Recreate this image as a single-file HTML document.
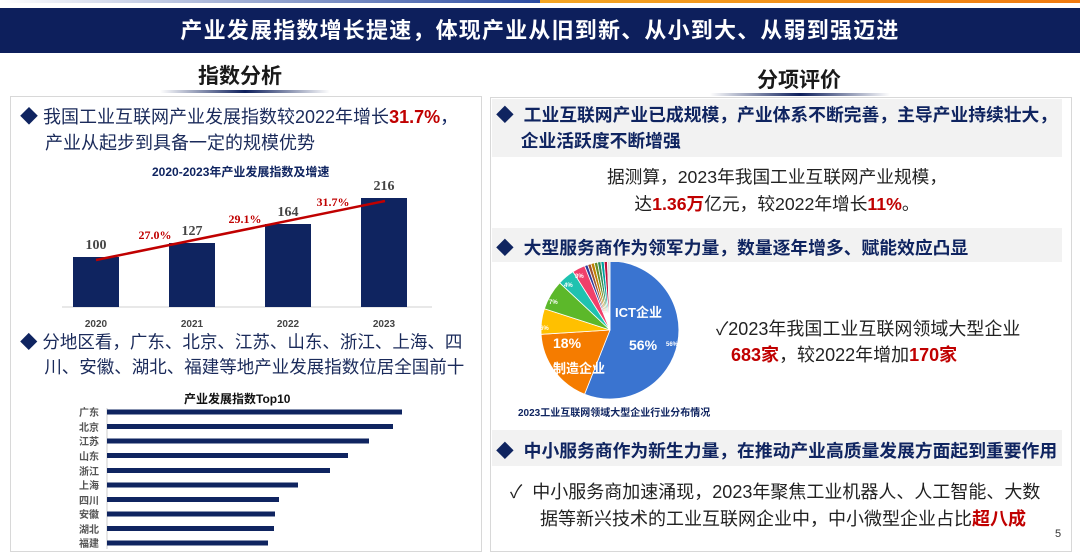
<!DOCTYPE html>
<html><head><meta charset="utf-8"><style>
*{margin:0;padding:0;box-sizing:border-box}
body{width:1080px;height:556px;position:relative;background:#fff;font-family:"Liberation Sans","Noto Sans CJK SC",sans-serif;overflow:hidden;color:#1a1a1a}
.a{position:absolute;white-space:nowrap}
.navy{color:#0f2460}
.red{color:#c00000;font-weight:bold}
.b{font-weight:bold}
</style></head><body>
<div class="a" style="left:0;top:0;width:540px;height:3px;background:linear-gradient(90deg,#fff,#2a4aa0)"></div>
<div class="a" style="left:540px;top:0;width:540px;height:3px;background:linear-gradient(90deg,#f5a623,#f07a10)"></div>
<div class="a" style="left:0;top:8px;width:1080px;height:45px;background:#0d1f5c;color:#fff;font-size:22px;letter-spacing:1.2px;font-weight:bold;text-align:center;line-height:45px">产业发展指数增长提速，体现产业从旧到新、从小到大、从弱到强迈进</div>

<div class="a b" style="left:198px;top:60px;font-size:21px">指数分析</div>
<div class="a" style="left:160px;top:90px;width:170px;height:3px;background:linear-gradient(90deg,#fff,#0d1f5c,#fff)"></div>
<div class="a b" style="left:757px;top:64px;font-size:21px">分项评价</div>
<div class="a" style="left:710px;top:93px;width:180px;height:3px;background:linear-gradient(90deg,#fff,#0d1f5c,#fff)"></div>

<div class="a" style="left:10px;top:96px;width:472px;height:456px;border:1px solid #d8d8d8"></div>
<div class="a" style="left:490px;top:97px;width:582px;height:455px;border:1px solid #d8d8d8"></div>

<div class="a navy" style="left:20px;top:104px;font-size:18px;line-height:26px">◆&nbsp;<span style="color:#1a2a5a">我国工业互联网产业发展指数较2022年增长</span><span class="red">31.7%</span>，<br>&nbsp;&nbsp;&nbsp;&nbsp;&nbsp;<span style="color:#1a2a5a">产业从起步到具备一定的规模优势</span></div>
<div class="a b navy" style="left:152px;top:163px;font-size:12px">2020-2023年产业发展指数及增速</div>

<svg class="a" style="left:0;top:0" width="1080" height="556">
<line x1="62" y1="307" x2="432" y2="307" stroke="#d0d0d0"/>
<rect x="73" y="257" width="46" height="50" fill="#0f2460"/>
<rect x="169" y="243" width="46" height="64" fill="#0f2460"/>
<rect x="265" y="224" width="46" height="83" fill="#0f2460"/>
<rect x="361" y="198" width="46" height="109" fill="#0f2460"/>
<g font-family="Liberation Serif,serif" font-weight="bold" font-size="14" fill="#444" text-anchor="middle">
<text x="96" y="249">100</text><text x="192" y="235">127</text><text x="288" y="216">164</text><text x="384" y="190">216</text></g>
<line x1="96" y1="260" x2="385" y2="201" stroke="#c00000" stroke-width="2.5"/>
<g font-family="Liberation Serif,serif" font-weight="bold" font-size="12" fill="#c00000" text-anchor="middle">
<text x="155" y="239">27.0%</text><text x="245" y="223">29.1%</text><text x="333" y="206">31.7%</text></g>
<g font-size="10" font-weight="bold" fill="#444" text-anchor="middle">
<text x="96" y="327">2020</text><text x="192" y="327">2021</text><text x="288" y="327">2022</text><text x="384" y="327">2023</text></g>

<line x1="107" y1="408" x2="107" y2="549" stroke="#ccc"/>
<g fill="#0f2460">
<rect x="107" y="409.5" width="295" height="5"/><rect x="107" y="424" width="286" height="5"/>
<rect x="107" y="438.5" width="262" height="5"/><rect x="107" y="453" width="241" height="5"/>
<rect x="107" y="468" width="223" height="5"/><rect x="107" y="482.5" width="191" height="5"/>
<rect x="107" y="497" width="172" height="5"/><rect x="107" y="511.5" width="168" height="5"/>
<rect x="107" y="526" width="167" height="5"/><rect x="107" y="540.5" width="161" height="5"/></g>
<g font-size="10" font-weight="bold" fill="#555" text-anchor="end">
<text x="99" y="416">广东</text><text x="99" y="431">北京</text><text x="99" y="445">江苏</text><text x="99" y="460">山东</text><text x="99" y="475">浙江</text><text x="99" y="489">上海</text><text x="99" y="504">四川</text><text x="99" y="518">安徽</text><text x="99" y="533">湖北</text><text x="99" y="547">福建</text></g>

<g transform="translate(610,330)" stroke="#fff" stroke-width="0.8">
<path d="M0,0 L0,-69 A69,69 0 1,1 -25.4,64.2 Z" fill="#3a74d0"/>
<path d="M0,0 L-25.4,64.2 A69,69 0 0,1 -68.9,4.3 Z" fill="#f57c00"/>
<path d="M0,0 L-68.9,4.3 A69,69 0 0,1 -65.6,-21.3 Z" fill="#ffc000"/>
<path d="M0,0 L-65.6,-21.3 A69,69 0 0,1 -50.3,-47.2 Z" fill="#5cb82a"/>
<path d="M0,0 L-50.3,-47.2 A69,69 0 0,1 -37.0,-58.3 Z" fill="#1fc2b0"/>
<path d="M0,0 L-37.0,-58.3 A69,69 0 0,1 -25.4,-64.2 Z" fill="#f0406a"/>
<path d="M0,0 L-25.4,-64.2 A69,69 0 0,1 -22.3,-65.3 Z" fill="#2a3a9a"/>
<path d="M0,0 L-22.3,-65.3 A69,69 0 0,1 -19.1,-66.3 Z" fill="#a0522d"/>
<path d="M0,0 L-19.1,-66.3 A69,69 0 0,1 -15.8,-67.2 Z" fill="#c08000"/>
<path d="M0,0 L-15.8,-67.2 A69,69 0 0,1 -12.5,-67.9 Z" fill="#6b8e23"/>
<path d="M0,0 L-12.5,-67.9 A69,69 0 0,1 -9.2,-68.4 Z" fill="#2e8b57"/>
<path d="M0,0 L-9.2,-68.4 A69,69 0 0,1 -5.9,-68.7 Z" fill="#00a0a0"/>
<path d="M0,0 L-5.9,-68.7 A69,69 0 0,1 -2.6,-68.9 Z" fill="#c0103a"/>
<path d="M0,0 L-2.6,-68.9 A69,69 0 0,1 0,-69 Z" fill="#ddd"/>
</g>
<g fill="#fff" font-size="13" font-weight="bold">
<text x="615" y="317">ICT企业</text><text x="629" y="350" font-size="14">56%</text>
<text x="553" y="348" font-size="14">18%</text><text x="553" y="373">制造企业</text>
<g font-size="6"><text x="666" y="346">56%</text><text x="540" y="330">6%</text><text x="549" y="304">7%</text><text x="564" y="287">4%</text><text x="575" y="278">3%</text></g></g>
</svg>

<div class="a navy" style="left:20px;top:330px;font-size:17.5px;line-height:25px"><span>◆</span>&nbsp;<span style="color:#1a2a5a">分地区看，广东、北京、江苏、山东、浙江、上海、四</span><br>&nbsp;&nbsp;&nbsp;&nbsp;&nbsp;<span style="color:#1a2a5a">川、安徽、湖北、福建等地产业发展指数位居全国前十</span></div>
<div class="a b" style="left:184px;top:390px;font-size:12px;color:#111">产业发展指数Top10</div>

<div class="a" style="left:492px;top:99px;width:570px;height:58px;background:#f2f2f2"></div>
<div class="a b navy" style="left:496px;top:102px;font-size:17.8px;line-height:26px">◆&nbsp; 工业互联网产业已成规模，产业体系不断完善，主导产业持续壮大，<br>&nbsp;&nbsp;&nbsp;&nbsp;&nbsp;企业活跃度不断增强</div>
<div class="a" style="left:492px;top:164px;width:570px;text-align:center;font-size:17.7px;line-height:27px;color:#222">据测算，2023年我国工业互联网产业规模，<br>达<span class="red">1.36万</span>亿元，较2022年增长<span class="red">11%</span>。</div>

<div class="a" style="left:492px;top:228px;width:570px;height:34px;background:#f2f2f2"></div>
<div class="a b navy" style="left:496px;top:234px;font-size:17.8px">◆&nbsp; 大型服务商作为领军力量，数量逐年增多、赋能效应凸显</div>
<div class="a" style="left:716px;top:316px;font-size:18px;line-height:26px;color:#222">✓2023年我国工业互联网领域大型企业<br>&nbsp;&nbsp;&nbsp;<span class="red">683家</span>，较2022年增加<span class="red">170家</span></div>
<div class="a b navy" style="left:518px;top:404px;font-size:10px">2023工业互联网领域大型企业行业分布情况</div>

<div class="a" style="left:492px;top:430px;width:570px;height:36px;background:#f2f2f2"></div>
<div class="a b navy" style="left:496px;top:437px;font-size:17.8px">◆&nbsp; 中小服务商作为新生力量，在推动产业高质量发展方面起到重要作用</div>
<div class="a" style="left:510px;top:479px;font-size:18px;line-height:27px;color:#222">✓&nbsp;&nbsp;中小服务商加速涌现，2023年聚焦工业机器人、人工智能、大数<br>&nbsp;&nbsp;&nbsp;&nbsp;&nbsp;&nbsp;据等新兴技术的工业互联网企业中，中小微型企业占比<span class="red">超八成</span></div>
<div class="a" style="left:1055px;top:528px;font-size:11px;color:#333">5</div>
</body></html>
